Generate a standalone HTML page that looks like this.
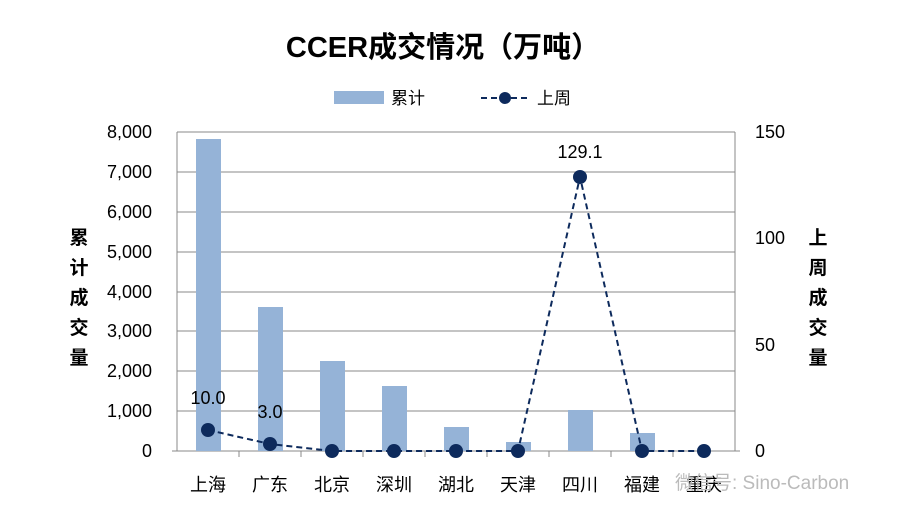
<!DOCTYPE html><html><head><meta charset="utf-8"><style>body{margin:0;background:#fff}svg{display:block}text{font-family:"Liberation Sans","Noto Sans CJK SC",sans-serif;fill:#000}</style></head><body>
<svg width="908" height="519" viewBox="0 0 908 519">
<text x="443" y="57" font-size="29" font-weight="bold" text-anchor="middle">CCER成交情况（万吨）</text>
<rect x="334" y="91" width="50" height="13" fill="#95b3d7"/><text x="391" y="104" font-size="17">累计</text>
<line x1="481" y1="98" x2="530" y2="98" stroke="#0d2a5c" stroke-width="2" stroke-dasharray="6,4"/><circle cx="505" cy="98" r="6" fill="#0d2a5c"/><text x="537" y="104" font-size="17">上周</text>
<g stroke="#888" stroke-width="1">
<line x1="177" y1="132" x2="735" y2="132"/><line x1="177" y1="172" x2="735" y2="172"/><line x1="177" y1="212" x2="735" y2="212"/><line x1="177" y1="252" x2="735" y2="252"/><line x1="177" y1="292" x2="735" y2="292"/><line x1="177" y1="331" x2="735" y2="331"/><line x1="177" y1="371" x2="735" y2="371"/><line x1="177" y1="411" x2="735" y2="411"/>
<line x1="177" y1="132" x2="177" y2="451"/><line x1="735" y1="132" x2="735" y2="451"/>
<line x1="172" y1="451" x2="740" y2="451"/>
<line x1="239" y1="451" x2="239" y2="457"/><line x1="301" y1="451" x2="301" y2="457"/><line x1="363" y1="451" x2="363" y2="457"/><line x1="425" y1="451" x2="425" y2="457"/><line x1="487" y1="451" x2="487" y2="457"/><line x1="549" y1="451" x2="549" y2="457"/><line x1="611" y1="451" x2="611" y2="457"/><line x1="673" y1="451" x2="673" y2="457"/>
</g>
<g fill="#95b3d7">
<rect x="196" y="139" width="25" height="312"/><rect x="258" y="307" width="25" height="144"/><rect x="320" y="361" width="25" height="90"/><rect x="382" y="386" width="25" height="65"/><rect x="444" y="427" width="25" height="24"/><rect x="506" y="442" width="25" height="9"/><rect x="568" y="410" width="25" height="41"/><rect x="630" y="433" width="25" height="18"/>
</g>
<polyline points="208,430 270,444 332,451 394,451 456,451 518,451 580,177 642,451 704,451" fill="none" stroke="#0d2a5c" stroke-width="2" stroke-dasharray="6,4"/>
<g fill="#0d2a5c"><circle cx="208" cy="430" r="7"/><circle cx="270" cy="444" r="7"/><circle cx="332" cy="451" r="7"/><circle cx="394" cy="451" r="7"/><circle cx="456" cy="451" r="7"/><circle cx="518" cy="451" r="7"/><circle cx="580" cy="177" r="7"/><circle cx="642" cy="451" r="7"/><circle cx="704" cy="451" r="7"/></g>
<g font-size="18"><text x="208" y="404" text-anchor="middle">10.0</text><text x="270" y="418" text-anchor="middle">3.0</text><text x="580" y="158" text-anchor="middle">129.1</text></g>
<g font-size="18" text-anchor="end"><text x="152" y="138">8,000</text><text x="152" y="178">7,000</text><text x="152" y="218">6,000</text><text x="152" y="258">5,000</text><text x="152" y="298">4,000</text><text x="152" y="337">3,000</text><text x="152" y="377">2,000</text><text x="152" y="417">1,000</text><text x="152" y="457">0</text></g>
<g font-size="18"><text x="755" y="138">150</text><text x="755" y="244">100</text><text x="755" y="351">50</text><text x="755" y="457">0</text></g>
<g font-size="18" text-anchor="middle"><text x="208" y="491">上海</text><text x="270" y="491">广东</text><text x="332" y="491">北京</text><text x="394" y="491">深圳</text><text x="456" y="491">湖北</text><text x="518" y="491">天津</text><text x="580" y="491">四川</text><text x="642" y="491">福建</text><text x="704" y="491">重庆</text></g>
<g font-size="19" font-weight="bold" text-anchor="middle"><text x="79" y="244">累</text><text x="79" y="274">计</text><text x="79" y="304">成</text><text x="79" y="334">交</text><text x="79" y="364">量</text>
<text x="818" y="244">上</text><text x="818" y="274">周</text><text x="818" y="304">成</text><text x="818" y="334">交</text><text x="818" y="364">量</text></g>
<text x="675" y="489" font-size="19" style="fill:#bbb">微信号: Sino-Carbon</text>
</svg></body></html>
